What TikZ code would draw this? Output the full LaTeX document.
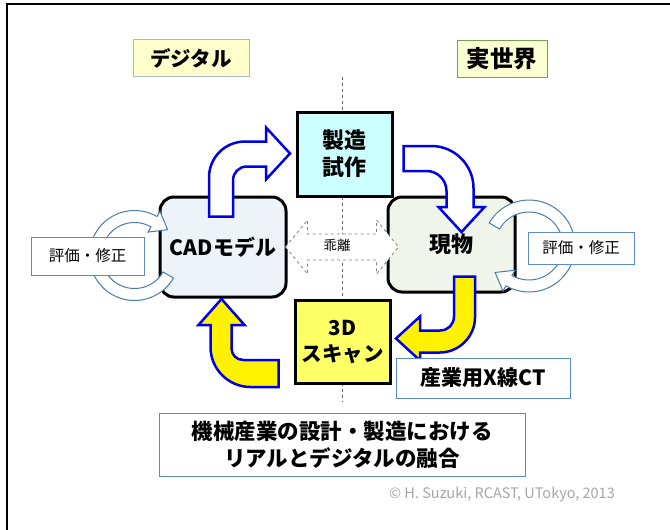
\documentclass[tikz,border=0pt]{standalone}
\usepackage{fontspec}
\setmainfont{Noto Sans CJK JP}
\usetikzlibrary{calc}
\definecolor{cadfill}{HTML}{EEF3FA}
\definecolor{objfill}{HTML}{EFF5EA}
\definecolor{makefill}{HTML}{CCFFFF}
\definecolor{scanfill}{HTML}{FFFF66}
\definecolor{tagline}{HTML}{5B8BC0}
\definecolor{loopline}{HTML}{4A7BAA}
\definecolor{digiline}{HTML}{A7B8D0}
\definecolor{digifill}{HTML}{FFFFCC}
\definecolor{realline}{HTML}{77A04F}
\definecolor{realfill}{HTML}{FCFFCF}
\definecolor{arrowblue}{HTML}{0000E6}
\definecolor{credgray}{HTML}{A6A6A6}
\begin{document}
\begin{tikzpicture}[x=1pt, y=-1pt,
	box/.style={draw=black, line width=3pt, inner sep=0pt, align=center, font=\bfseries\fontsize{22}{27}\selectfont},
	solidbox/.style={box, minimum width=95pt, minimum height=84pt},
	model/.style={box, rounded corners=14pt, minimum width=126pt},
	title/.style={line width=1pt, inner sep=0pt, minimum height=37pt},
	tag/.style={draw=tagline, line width=1pt, fill=white, inner sep=0pt, align=center},
	blockarrow/.style={draw=arrowblue, line width=2.5pt, line join=miter, fill=white},
	yellowarrow/.style={blockarrow, fill=yellow},
	loop/.style={draw=loopline, line width=1pt, fill=white},
	gaparrow/.style={draw=gray, dashed, line width=0.8pt, fill=white}]
	
	\useasboundingbox (0,0) rectangle (670,530);
	\draw[line width=2.5pt] (670,4) -- (7,4) -- (7,530);
	\draw[dashed, line width=0.8pt, black!60] (342,77) -- (342,402);
	
	% headings
	\node[title, draw=digiline, fill=digifill, minimum width=116pt, font=\bfseries\fontsize{20.5}{24}\selectfont] (digital) at (191,58) {デジタル};
	\node[title, draw=realline, fill=realfill, minimum width=90pt, font=\bfseries\fontsize{23.5}{27}\selectfont] (real) at (502,58.5) {実世界};
	
	% main boxes
	\node[model, fill=cadfill, minimum height=100pt, font=\bfseries\fontsize{21}{26}\selectfont] (cad) at (223,247) {CADモデル};
	\node[model, fill=objfill, minimum width=127pt, minimum height=95pt] (obj) at (451.5,244.5) {現物};
	\node[solidbox, fill=makefill] (make) at (344.5,154) {製造\\試作};
	\node[solidbox, fill=scanfill, minimum height=83pt, font=\bfseries\fontsize{20.5}{26}\selectfont] (scan) at (342.5,341.5) {3D\\スキャン};
	
	\begin{scope}
	% cycle of block arrows
	\draw[blockarrow] ([xshift=-14pt,yshift=-21pt]cad.north) -- ++(0,-39)
		.. controls +(0,-20) and +(-20,0) .. ++(36,-36) -- ++(21,0) -- ++(0,-14)
		-- ++(24,26) -- ++(-24,26) -- ++(0,-13) -- ++(-19,0)
		.. controls +(-8,0) and +(0,-8) .. ++(-14,14) -- ++(0,36) -- cycle;
	\draw[blockarrow] ([xshift=10pt,yshift=8pt]make.east) -- ++(28,0)
		.. controls +(23,0) and +(0,-23) .. ++(42,42) -- ++(0,19) -- ++(11,0)
		-- ++(-23,25) -- ++(-23,-25) -- ++(8,0) -- ++(0,-16)
		.. controls +(0,-11) and +(11,0) .. ++(-20,-20) -- ++(-23,0) -- cycle;
	\draw[yellowarrow] ([xshift=2.5pt,yshift=17pt]obj.south) -- ++(21,0) -- ++(0,41)
		.. controls +(0,19) and +(19,0) .. ++(-35,35) -- ++(-20,0) -- ++(0,8)
		-- ++(-24,-22) -- ++(24,-22) -- ++(0,14) -- ++(20,0)
		.. controls +(8,0) and +(0,8) .. ++(14,-14) -- cycle;
	\draw[yellowarrow] ([xshift=-15pt,yshift=-18.5pt]scan.west) -- ++(0,27) -- ++(-28,0)
		.. controls +(-22,0) and +(0,22) .. ++(-40,-40) -- ++(0,-22) -- ++(-12,0)
		-- ++(23,-26) -- ++(23,26) -- ++(-13,0) -- ++(0,23)
		.. controls +(0,7) and +(-7,0) .. ++(12,12) -- cycle;
	% gap between the two worlds
	\draw[gaparrow] ([xshift=-2pt]cad.east) -- ++(22,-27) -- ++(0,14) -- ++(69,0) -- ++(0,-14)
		-- ++(22,27) -- ++(-22,27) -- ++(0,-14) -- ++(-69,0) -- ++(0,14) -- cycle;
	\end{scope}
	\node[font=\fontsize{13.5}{15}\selectfont] (gap) at ($(cad.east)!0.5!(obj.west)$) {乖離};
	
	% evaluation loops
	\coordinate (loopL) at (134.5,255.5);
	\coordinate (loopR) at (529,246);
	\begin{scope}[shift={(loopL)}]
	\draw[loop] (30:45) arc[start angle=30, end angle=300, radius=45] -- (300:51) -- (322:42)
		-- (300:27) -- (300:33) arc[start angle=300, end angle=30, radius=33] -- cycle;
	\end{scope}
	\begin{scope}[shift={(loopR)}]
	\draw[loop] (-150:46) arc[start angle=-150, end angle=120, radius=46] -- (120:52) -- (142:43)
		-- (120:28) -- (120:34) arc[start angle=120, end angle=-150, radius=34] -- cycle;
	\end{scope}
	
	% captions
	\node[tag, minimum width=113pt, minimum height=38pt, font=\fontsize{15.5}{18}\selectfont] (evalL) at (87.5,256) {評価・修正};
	\node[tag, minimum width=106pt, minimum height=32pt, font=\fontsize{15.5}{18}\selectfont] (evalR) at (581,248) {評価・修正};
	\node[tag, minimum width=174pt, minimum height=40pt, font=\bfseries\fontsize{21}{24}\selectfont] (ct) at (483,378) {産業用X線CT};
	\node[tag, minimum width=366pt, minimum height=63pt, font=\bfseries\fontsize{21.5}{27}\selectfont] (summary) at (342,444.5) {機械産業の設計・製造における\\リアルとデジタルの融合};
	\node[text=credgray, font=\fontsize{14.5}{17}\selectfont] (credit) at (502,494) {© H. Suzuki, RCAST, UTokyo, 2013};
\end{tikzpicture}
\end{document}
